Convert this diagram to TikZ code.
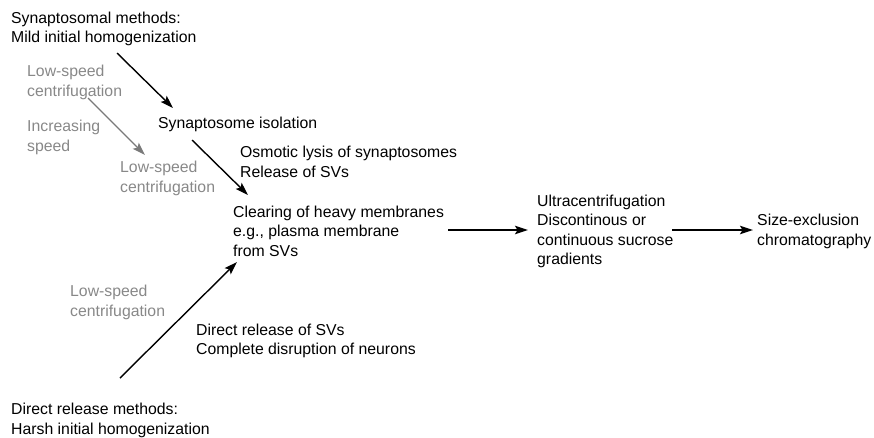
\documentclass[tikz,border=0pt]{standalone}
\usepackage{fontspec}
\setmainfont{Liberation Sans}
\usetikzlibrary{arrows.meta}
\definecolor{txtgray}{HTML}{888888}
\definecolor{arrgray}{HTML}{7A7A7A}
\begin{document}
\begin{tikzpicture}[x=1pt,y=-1pt,
  lbl/.style={anchor=base west, inner sep=0pt, align=left, font=\fontsize{15.8}{19.5}\selectfont, text=black},
  graylbl/.style={lbl, text=txtgray},
  arr/.style={-{Stealth[length=13pt,width=8.5pt,inset=2.5pt]}, line width=1.4pt, draw=black},
  grayarr/.style={arr, draw=arrgray, -{Stealth[length=13pt,width=8.5pt,inset=2.5pt,color=arrgray]}}]
\useasboundingbox (0,0) rectangle (874,437);

% base west = baseline of the LAST line
\node[lbl] (synmeth) at (11,42.5) {Synaptosomal methods:\\Mild initial homogenization};
\node[graylbl] (low1) at (27,96) {Low-speed\\centrifugation};
\node[graylbl] (incr) at (27,151) {Increasing\\speed};
\node[lbl] (iso) at (158,128) {Synaptosome isolation};
\node[graylbl] (low2) at (120,192) {Low-speed\\centrifugation};
\node[lbl] (osm) at (240,177) {Osmotic lysis of synaptosomes\\Release of SVs};
\node[lbl] (clear) at (233,256) {Clearing of heavy membranes\\e.g., plasma membrane\\from SVs};
\node[lbl] (ultra) at (537,264.5) {Ultracentrifugation\\Discontinous or\\continuous sucrose\\gradients};
\node[lbl] (size) at (757,245) {Size-exclusion\\chromatography};
\node[graylbl] (low3) at (70,316) {Low-speed\\centrifugation};
\node[lbl] (direct) at (196,354.5) {Direct release of SVs\\Complete disruption of neurons};
\node[lbl] (dirmeth) at (11,434) {Direct release methods:\\Harsh initial homogenization};

\coordinate (a1s) at (117,53);
\coordinate (a1e) at (173,108);
\coordinate (a2s) at (88,98);
\coordinate (a2e) at (145,155);
\coordinate (a3s) at (192,140);
\coordinate (a3e) at (248,195);
\coordinate (a4s) at (120,378);
\coordinate (a4e) at (237,262);
\coordinate (a5s) at (448,230);
\coordinate (a5e) at (528,230);
\coordinate (a6s) at (672,230);
\coordinate (a6e) at (753,230);

\draw[arr] (a1s) -- (a1e);
\draw[grayarr] (a2s) -- (a2e);
\draw[arr] (a3s) -- (a3e);
\draw[arr] (a4s) -- (a4e);
\draw[arr] (a5s) -- (a5e);
\draw[arr] (a6s) -- (a6e);
\end{tikzpicture}
\end{document}
